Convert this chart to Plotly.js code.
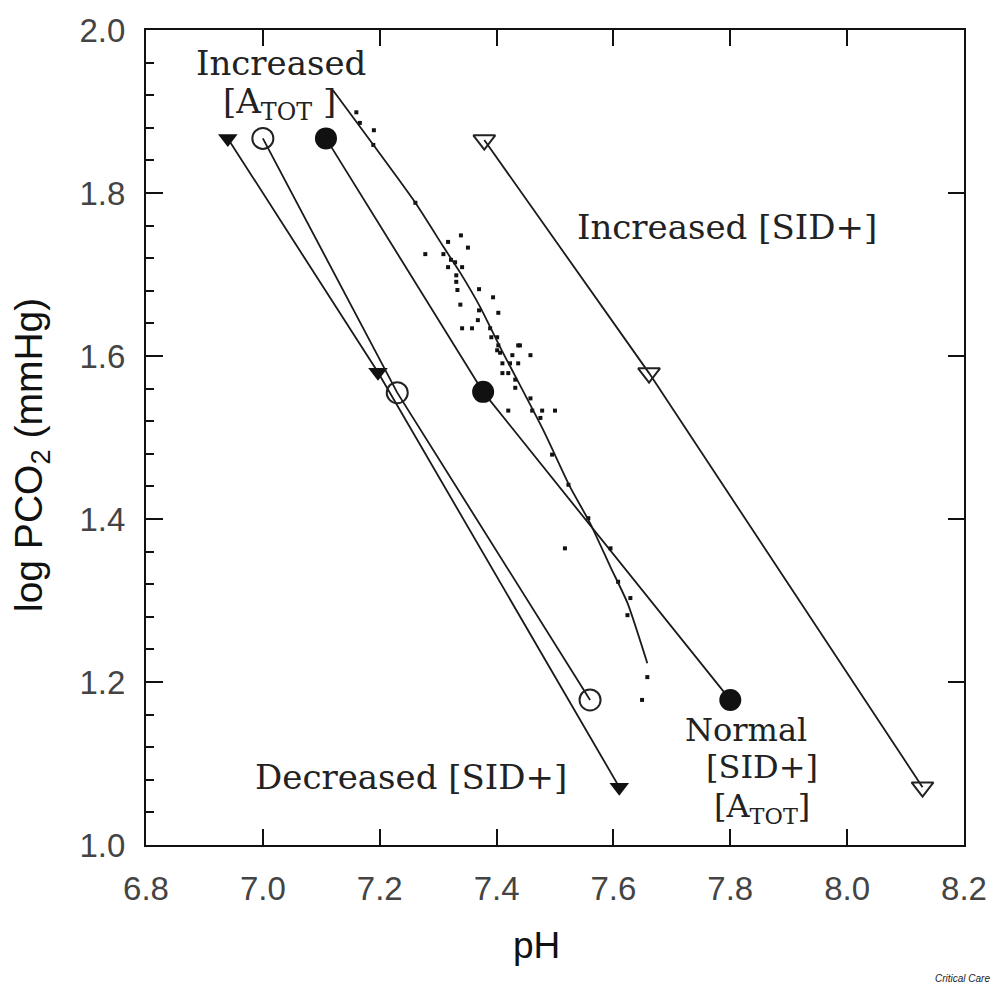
<!DOCTYPE html>
<html>
<head>
<meta charset="utf-8">
<script src="https://cdn.plot.ly/plotly-3.0.1.min.js"></script>
<style>html,body{margin:0;padding:0;background:#fff;}#chart{width:1004px;height:986px;}</style>
</head>
<body>
<div id="chart"></div>
<script>
// ---- data ----
const decSID_pH   = [6.94, 7.197, 7.61];
const decSID_pco2 = [1.867, 1.580, 1.071];

const incAtot_pH   = [7.00, 7.23, 7.56];
const incAtot_pco2 = [1.867, 1.555, 1.178];

const normal_pH   = [7.108, 7.377, 7.80];
const normal_pco2 = [1.867, 1.556, 1.178];

const incSID_pH   = [7.379, 7.661, 8.129];
const incSID_pco2 = [1.865, 1.579, 1.071];

const curve_pH   = [7.120, 7.261, 7.309, 7.338, 7.372, 7.406, 7.480, 7.526, 7.560, 7.595, 7.624, 7.658];
const curve_pco2 = [1.926, 1.788, 1.734, 1.702, 1.660, 1.611, 1.509, 1.439, 1.395, 1.341, 1.297, 1.223];

const obs_pH = [7.160, 7.166, 7.190, 7.189, 7.261, 7.339, 7.317, 7.351, 7.278, 7.309, 7.322, 7.329,
  7.317, 7.341, 7.331, 7.331, 7.333, 7.370, 7.394, 7.338, 7.370, 7.403, 7.368, 7.341, 7.358, 7.389,
  7.391, 7.401, 7.437, 7.403, 7.401, 7.406, 7.440, 7.427, 7.458, 7.410, 7.423, 7.437, 7.410, 7.420,
  7.432, 7.432, 7.458, 7.420, 7.461, 7.478, 7.500, 7.475, 7.495, 7.523, 7.557, 7.517, 7.595, 7.608,
  7.629, 7.624, 7.658, 7.649];
const obs_pco2 = [1.899, 1.886, 1.877, 1.859, 1.788, 1.748, 1.740, 1.733, 1.725, 1.725, 1.718, 1.715,
  1.709, 1.709, 1.699, 1.691, 1.681, 1.682, 1.672, 1.663, 1.656, 1.653, 1.644, 1.634, 1.634, 1.634,
  1.623, 1.623, 1.613, 1.613, 1.607, 1.604, 1.613, 1.601, 1.601, 1.591, 1.591, 1.591, 1.579, 1.579,
  1.571, 1.561, 1.548, 1.533, 1.533, 1.533, 1.533, 1.524, 1.479, 1.442, 1.401, 1.364, 1.364, 1.323,
  1.303, 1.282, 1.206, 1.178];

const xTickVals = [6.8, 7.0, 7.2, 7.4, 7.6, 7.8, 8.0, 8.2];
const xTickText = ['6.8', '7.0', '7.2', '7.4', '7.6', '7.8', '8.0', '8.2'];
const yTickVals = [1.0, 1.2, 1.4, 1.6, 1.8, 2.0];
const yTickText = ['1.0', '1.2', '1.4', '1.6', '1.8', '2.0'];

// ---- traces ----
const LINE = '#1a1a1a';
const LW = 1.8;
const traces = [
  {x: decSID_pH, y: decSID_pco2, mode: 'lines+markers', type: 'scatter',
   line: {color: LINE, width: LW},
   marker: {symbol: 'triangle-down', size: 17, color: '#111'}},
  {x: incAtot_pH, y: incAtot_pco2, mode: 'lines+markers', type: 'scatter',
   line: {color: LINE, width: LW},
   marker: {symbol: 'circle-open', size: 21, color: '#222', line: {width: 2, color: '#222'}}},
  {x: normal_pH, y: normal_pco2, mode: 'lines+markers', type: 'scatter',
   line: {color: LINE, width: LW},
   marker: {symbol: 'circle', size: 22, color: '#111'}},
  {x: incSID_pH, y: incSID_pco2, mode: 'lines+markers', type: 'scatter',
   line: {color: LINE, width: LW},
   marker: {symbol: 'triangle-down-open', size: 19, color: '#222', line: {width: 2, color: '#333'}}},
  {x: curve_pH, y: curve_pco2, mode: 'lines', type: 'scatter', yaxis: 'y2',
   line: {color: LINE, width: LW, shape: 'spline', smoothing: 0.6}},
  {x: obs_pH, y: obs_pco2, mode: 'markers', type: 'scatter',
   marker: {symbol: 'square', size: 4, color: '#111'}}
];

function note(text, x, y, size) {
  return {text: text, x: x, y: y, xref: 'x', yref: 'y', showarrow: false,
          xanchor: 'center', yanchor: 'middle',
          font: {family: 'DejaVu Serif, serif', size: size || 34, color: '#222'}};
}

const layout = {
  width: 1004, height: 986,
  margin: {l: 146, r: 40, t: 30, b: 141},
  paper_bgcolor: '#fff', plot_bgcolor: '#fff',
  showlegend: false,
  font: {family: 'Arial, Liberation Sans, sans-serif', color: '#333'},
  xaxis: {
    range: [6.8, 8.2], tickvals: xTickVals, ticktext: xTickText,
    ticks: 'inside', ticklen: 16, tickwidth: 2, tickcolor: '#111',
    showline: true, linewidth: 2, linecolor: '#111', mirror: 'ticks',
    showgrid: false, zeroline: false,
    tickfont: {family: 'Arial, Liberation Sans, sans-serif', size: 33, color: '#444'},
    ticklabelstandoff: 13
  },
  yaxis: {
    range: [1.0, 2.0], tickvals: yTickVals, ticktext: yTickText,
    ticks: 'inside', ticklen: 17, tickwidth: 2, tickcolor: '#111',
    minor: {dtick: 0.04, tick0: 1.0, ticks: 'inside', ticklen: 8, tickwidth: 2, tickcolor: '#111', showgrid: false},
    showline: true, linewidth: 2, linecolor: '#111', mirror: true,
    showgrid: false, zeroline: false,
    tickfont: {family: 'Arial, Liberation Sans, sans-serif', size: 33, color: '#444'},
    ticklabelstandoff: 12
  },
  yaxis2: {
    range: [1.0, 2.0], overlaying: 'y', side: 'right', tickvals: yTickVals,
    ticks: 'inside', ticklen: 16, tickwidth: 2, tickcolor: '#111',
    showticklabels: false, showline: false, showgrid: false, zeroline: false
  },
  annotations: [
    note('Increased', 7.031, 1.9595),
    note('[A<sub>TOT</sub> ]', 7.029, 1.910),
    note('Increased [SID+]', 7.795, 1.758),
    note('Normal', 7.827, 1.141, 32),
    note('[SID+]', 7.855, 1.096, 32),
    note('[A<sub>TOT</sub>]', 7.855, 1.046, 32),
    note('Decreased [SID+]', 7.254, 1.083),
    {text: 'pH', x: 0.477, y: -0.1227, xref: 'paper', yref: 'paper', showarrow: false,
     xanchor: 'center', yanchor: 'middle',
     font: {family: 'Arial, Liberation Sans, sans-serif', size: 37, color: '#111'}},
    {text: 'log PCO<sub>2</sub> (mmHg)', x: -0.1406, y: 0.4785, xref: 'paper', yref: 'paper',
     showarrow: false, textangle: -90, xanchor: 'center', yanchor: 'middle',
     font: {family: 'Arial, Liberation Sans, sans-serif', size: 39, color: '#111'}},
    {text: '<i>Critical Care</i>', x: 1.0, y: 0, xref: 'paper', yref: 'paper', xanchor: 'right',
     yanchor: 'middle', yshift: -133, xshift: 28, showarrow: false,
     font: {family: 'Arial, Liberation Sans, sans-serif', size: 10, color: '#222'}}
  ]
};

Plotly.newPlot('chart', traces, layout, {staticPlot: true, displayModeBar: false});
</script>
</body>
</html>
